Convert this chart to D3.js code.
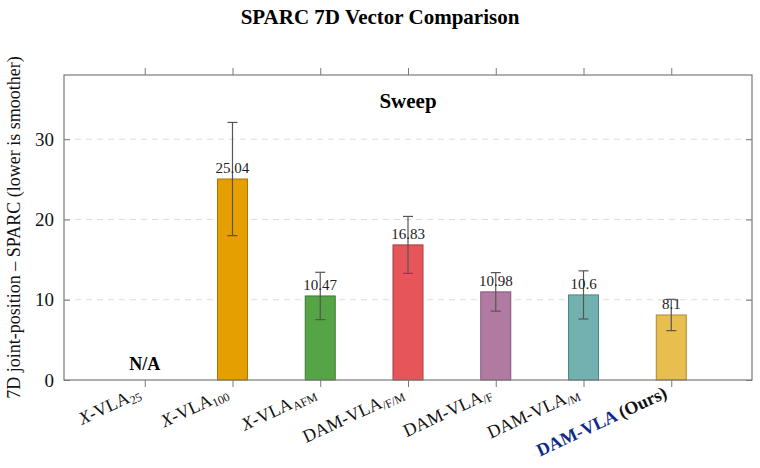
<!DOCTYPE html>
<html>
<head>
<meta charset="utf-8">
<script src="https://cdn.jsdelivr.net/npm/d3@7"></script>
<style>
  body { margin: 0; background: #fff; }
  text { font-family: "Liberation Serif", "DejaVu Serif", serif; }
</style>
</head>
<body>
<div id="chart"></div>
<script>
// data
var categories = ["X-VLA25", "X-VLA100", "X-VLAAFM", "DAM-VLA/F/M", "DAM-VLA/F", "DAM-VLA/M", "DAM-VLA (Ours)"]
var values = [null, 25.04, 10.47, 16.83, 10.98, 10.6, 8.1]
var errors = [null, 7.05, 2.95, 3.55, 2.4, 3.0, 1.95]
var colors = ["#cccccc", "#E69F00", "#55A546", "#E5555A", "#B07AA1", "#71B2B1", "#E8BE4E"]
var strokes = ["#999", "#A87400", "#3C7A31", "#A83C40", "#80587A", "#4F8584", "#A88A34"]
var yTicks = [0, 10, 20, 30]

var width = 760, height = 468
var margin = {left: 64, right: 8, top: 75, bottom: 88}

var svg = d3.select("#chart").append("svg")
  .attr("width", width).attr("height", height)

var x = d3.scalePoint()
  .domain(categories)
  .range([margin.left, width - margin.right])
  .padding(0.92)

var y = d3.scaleLinear()
  .domain([0, 38])
  .range([height - margin.bottom, margin.top])

var x0 = margin.left, x1 = width - margin.right
var y0 = height - margin.bottom, y1 = margin.top

// title
svg.append("text")
  .attr("x", 380).attr("y", 24)
  .attr("text-anchor", "middle")
  .style("font-size", "21px").style("font-weight", "bold")
  .text("SPARC 7D Vector Comparison")

// grid lines
svg.selectAll(".grid").data(yTicks.filter(function(d){ return d > 0 }))
  .enter().append("line")
  .attr("x1", x0).attr("x2", x1)
  .attr("y1", function(d){ return y(d) }).attr("y2", function(d){ return y(d) })
  .attr("stroke", "#dcdcdc").attr("stroke-width", 1)
  .attr("stroke-dasharray", "6,5")

// bars
var barW = 30
var idx = d3.range(categories.length).filter(function(i){ return values[i] != null })

svg.selectAll(".bar").data(idx).enter().append("rect")
  .attr("x", function(i){ return x(categories[i]) - barW / 2 })
  .attr("y", function(i){ return y(values[i]) })
  .attr("width", barW)
  .attr("height", function(i){ return y(0) - y(values[i]) })
  .attr("fill", function(i){ return colors[i] })
  .attr("stroke", function(i){ return strokes[i] })
  .attr("stroke-width", 1)

// error bars
var eb = svg.selectAll(".err").data(idx).enter().append("g")
eb.append("line")
  .attr("x1", function(i){ return x(categories[i]) }).attr("x2", function(i){ return x(categories[i]) })
  .attr("y1", function(i){ return y(values[i] + errors[i]) })
  .attr("y2", function(i){ return y(values[i] - errors[i]) })
  .attr("stroke", "#555").attr("stroke-width", 1.2)
eb.append("line")
  .attr("x1", function(i){ return x(categories[i]) - 5 }).attr("x2", function(i){ return x(categories[i]) + 5 })
  .attr("y1", function(i){ return y(values[i] + errors[i]) })
  .attr("y2", function(i){ return y(values[i] + errors[i]) })
  .attr("stroke", "#555").attr("stroke-width", 1.2)
eb.append("line")
  .attr("x1", function(i){ return x(categories[i]) - 5 }).attr("x2", function(i){ return x(categories[i]) + 5 })
  .attr("y1", function(i){ return y(values[i] - errors[i]) })
  .attr("y2", function(i){ return y(values[i] - errors[i]) })
  .attr("stroke", "#555").attr("stroke-width", 1.2)

// value labels
svg.selectAll(".val").data(idx).enter().append("text")
  .attr("x", function(i){ return x(categories[i]) })
  .attr("y", function(i){ return y(values[i]) - 6 })
  .attr("text-anchor", "middle")
  .style("font-size", "15px").style("fill", "#222")
  .text(function(i){ return values[i] })

// N/A
svg.append("text")
  .attr("x", x(categories[0])).attr("y", y(0) - 10)
  .attr("text-anchor", "middle")
  .style("font-size", "18px").style("font-weight", "bold")
  .text("N/A")

// panel title
svg.append("text")
  .attr("x", 408).attr("y", 108)
  .attr("text-anchor", "middle")
  .style("font-size", "21px").style("font-weight", "bold")
  .text("Sweep")

// frame
svg.append("rect")
  .attr("x", x0).attr("y", y1).attr("width", x1 - x0).attr("height", y0 - y1)
  .attr("fill", "none").attr("stroke", "#7a7a7a").attr("stroke-width", 1.2)

// y axis
var yAxis = svg.append("g")
  .attr("transform", "translate(" + x0 + ",0)")
  .call(d3.axisLeft(y).tickValues(yTicks).tickSize(-6).tickPadding(10))
yAxis.select(".domain").remove()
yAxis.selectAll("line").attr("stroke", "#7a7a7a")
yAxis.selectAll("text").style("font-size", "19px").style("font-family", "Liberation Serif, serif").attr("fill", "#111")

var yRight = svg.append("g")
  .attr("transform", "translate(" + x1 + ",0)")
  .call(d3.axisRight(y).tickValues(yTicks).tickSize(-6).tickFormat(""))
yRight.select(".domain").remove()
yRight.selectAll("line").attr("stroke", "#7a7a7a")

// x ticks, bottom and top
var xb = svg.append("g")
  .attr("transform", "translate(0," + y0 + ")")
  .call(d3.axisBottom(x).tickSize(7).tickFormat(""))
xb.select(".domain").remove()
xb.selectAll("line").attr("stroke", "#7a7a7a")
var xt = svg.append("g")
  .attr("transform", "translate(0," + y1 + ")")
  .call(d3.axisTop(x).tickSize(7).tickFormat(""))
xt.select(".domain").remove()
xt.selectAll("line").attr("stroke", "#7a7a7a")

// x tick labels, rotated, with subscripts
var labelParts = [
  [["X", "i"], ["-VLA", ""], ["25", "sub"]],
  [["X", "i"], ["-VLA", ""], ["100", "sub"]],
  [["X", "i"], ["-VLA", ""], ["AFM", "sub"]],
  [["DAM-VLA", ""], ["/F/M", "sub"]],
  [["DAM-VLA", ""], ["/F", "sub"]],
  [["DAM-VLA", ""], ["/M", "sub"]],
  [["DAM-VLA", "blue"], [" (Ours)", "b"]]
]

categories.forEach(function(c, i){
  var t = svg.append("text")
    .attr("text-anchor", "end")
    .attr("transform", "translate(" + (x(c) - 3) + "," + (y0 + 17) + ") rotate(-25)")
    .style("font-size", "18px").attr("fill", "#111")
  labelParts[i].forEach(function(p){
    var s = t.append("tspan").text(p[0])
    if (p[1] == "i") s.style("font-style", "italic")
    if (p[1] == "sub") s.style("font-size", "12px").attr("dy", 3)
    if (p[1] == "blue") s.style("font-weight", "bold").attr("fill", "#0D2A8A")
    if (p[1] == "b") s.style("font-weight", "bold")
  })
})

// y axis label
svg.append("text")
  .attr("transform", "translate(20," + ((y0 + y1) / 2) + ") rotate(-90)")
  .attr("text-anchor", "middle")
  .style("font-size", "18px").attr("fill", "#111")
  .text("7D joint-position \u2013 SPARC (lower is smoother)")
</script>
</body>
</html>
